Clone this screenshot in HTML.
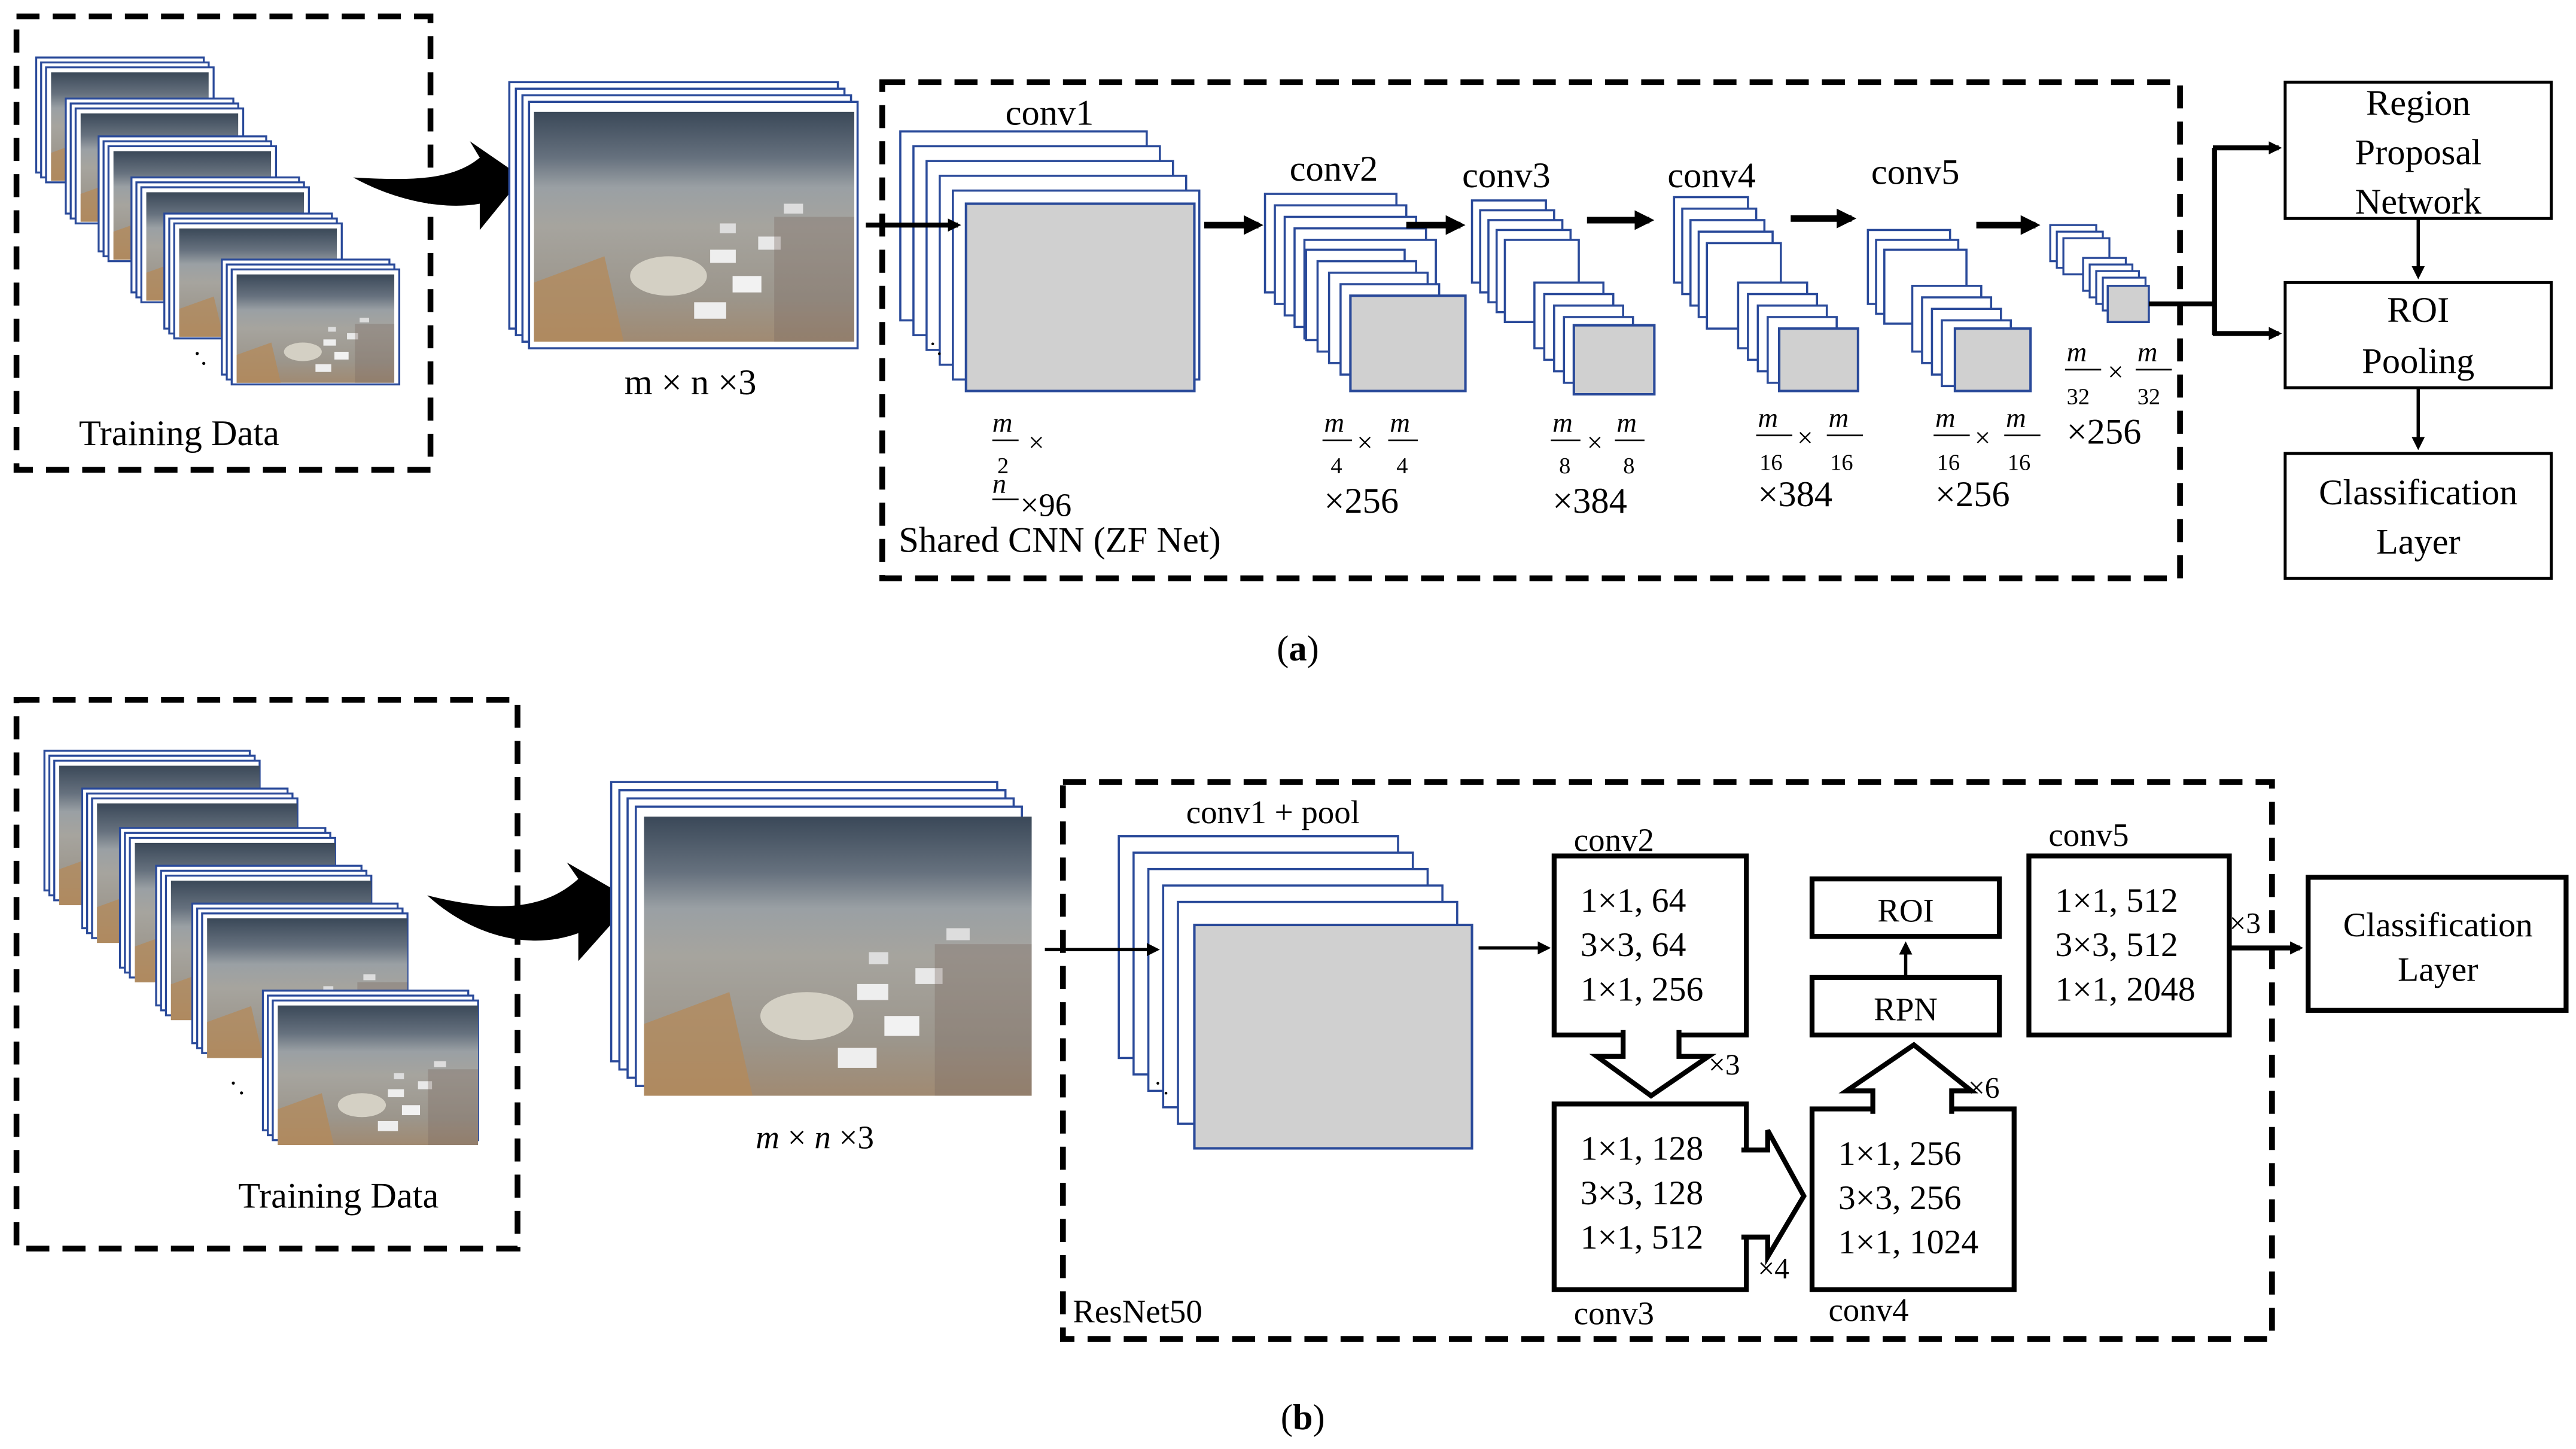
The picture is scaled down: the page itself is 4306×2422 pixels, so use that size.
<!DOCTYPE html>
<html><head><meta charset="utf-8">
<style>
html,body{margin:0;padding:0;background:#fff;}
svg{display:block;}
text{font-family:"Liberation Serif",serif;fill:#000;}
</style></head>
<body>
<svg id="s" width="4306" height="2422" viewBox="0 0 1568 882" xmlns="http://www.w3.org/2000/svg">
<defs>
<linearGradient id="sky" x1="0" y1="0" x2="0" y2="1">
<stop offset="0" stop-color="#3a4858"/><stop offset="0.2" stop-color="#66717e"/><stop offset="0.33" stop-color="#9aa0a4"/>
<stop offset="0.5" stop-color="#a6a49e"/><stop offset="0.8" stop-color="#9c968c"/><stop offset="1" stop-color="#a08a72"/>
</linearGradient>
<symbol id="ph" viewBox="0 0 100 70" preserveAspectRatio="none">
<rect width="100" height="70" fill="url(#sky)"/>
<polygon points="0,52 22,44 28,70 0,70" fill="#b48a5a" opacity="0.75"/>
<ellipse cx="42" cy="50" rx="12" ry="6" fill="#d4d0c4"/>
<rect x="55" y="42" width="8" height="4" fill="#eee"/><rect x="62" y="50" width="9" height="5" fill="#f2f2f2"/>
<rect x="70" y="38" width="7" height="4" fill="#e8e8e8"/><rect x="50" y="58" width="10" height="5" fill="#eee"/>
<rect x="78" y="28" width="6" height="3" fill="#ddd"/><rect x="58" y="34" width="5" height="3" fill="#ddd"/>
<rect x="75" y="32" width="25" height="38" fill="#7a6a60" opacity="0.35"/>
</symbol>
<marker id="ah" markerWidth="8" markerHeight="8" refX="6" refY="4" orient="auto" markerUnits="userSpaceOnUse"><path d="M0,0 L8,4 L0,8 z" fill="#000"/></marker>
<marker id="ah2" markerWidth="12" markerHeight="12" refX="9" refY="6" orient="auto" markerUnits="userSpaceOnUse"><path d="M0,0 L12,6 L0,12 z" fill="#000"/></marker>
</defs>
<g id="g"></g>
</svg>
<script>
var o='';
function R(x,y,w,h,f,s,sw,ex){o+='<rect x="'+x+'" y="'+y+'" width="'+w+'" height="'+h+'" fill="'+f+'" stroke="'+s+'" stroke-width="'+(sw||1)+'" '+(ex||'')+'/>';}
function T(x,y,t,sz,ex){o+='<text x="'+x+'" y="'+y+'" font-size="'+sz+'" '+(ex||'')+'>'+t+'</text>';}
function P(x,y,w,h){o+='<use href="#ph" x="'+x+'" y="'+y+'" width="'+w+'" height="'+h+'"/>';}
function L(x1,y1,x2,y2,sw,m){o+='<line x1="'+x1+'" y1="'+y1+'" x2="'+x2+'" y2="'+y2+'" stroke="#000" stroke-width="'+sw+'" '+(m?'marker-end="url(#'+m+')"':'')+'/>';}
var B='#2a4a9a';
// ===== (a)
R(10,10,252,276,'none','#000',3.5,'stroke-dasharray="14,8"');
var sx=[22,40,60,80,100,135],sy=[35,60,83,108,130,158];
for(var k=0;k<6;k++){var x=sx[k],y=sy[k];for(var i=0;i<3;i++)R(x+i*3,y+i*3,102,70,'#fff',B,1.2);P(x+9,y+9,96,66);}
T(118,216,'.',16);T(122,222,'.',16);
T(48,271,'Training Data',22);
o+='<path d="M215,108 C250,110 275,110 292,96 L286,86 L318,108 L292,140 L292,124 C270,128 240,122 215,108 z" fill="#000"/>';
for(var i=0;i<4;i++)R(310+i*4,50+i*4,200,150,'#fff',B,1.3);P(325,68,195,140);
T(380,240,'m × n ×3',22);
R(537,50,790,302,'none','#000',3.5,'stroke-dasharray="14,8"');
T(612,76,'conv1',22);
for(var i=0;i<5;i++)R(548+i*8,80+i*9,150,115,'#fff',B,1.3);R(588,124,139,114,'#d0d0d0',B,1.5);
T(566,210,'.',14);T(570,216,'.',14);
L(527,137,583,137,3,'ah');
T(604,263,'m',17,'font-style="italic"');L(604,268,620,268,1);T(607,288,'2',14);T(626,275,'×',17);
T(604,300,'n',17,'font-style="italic"');L(604,304,620,304,1);T(621,314,'×96',20);
T(547,336,'Shared CNN (ZF Net)',22);
T(785,110,'conv2',22);
for(var i=0;i<5;i++)R(770+i*6,118+i*7,80,60,'#fff',B,1.3);
for(var i=0;i<4;i++)R(795+i*7,152+i*7,60,55,'#fff',B,1.3);R(822,180,70,58,'#d0d0d0',B,1.5);
L(733,137,766,137,4,'ah2');
T(806,263,'m',17,'font-style="italic"');L(805,268,823,268,1);T(810,288,'4',14);T(826,275,'×',17);
T(846,263,'m',17,'font-style="italic"');L(845,268,863,268,1);T(850,288,'4',14);T(806,312,'×256',22);
T(890,114,'conv3',22);
for(var i=0;i<5;i++)R(896+i*5,122+i*6,45,50,'#fff',B,1.3);
for(var i=0;i<4;i++)R(934+i*6,172+i*7,42,40,'#fff',B,1.3);R(958,198,49,42,'#d0d0d0',B,1.5);
L(856,137,889,137,4,'ah2');
T(945,263,'m',17,'font-style="italic"');L(944,268,962,268,1);T(949,288,'8',14);T(966,275,'×',17);
T(984,263,'m',17,'font-style="italic"');L(983,268,1001,268,1);T(988,288,'8',14);T(945,312,'×384',22);
T(1015,114,'conv4',22);
for(var i=0;i<5;i++)R(1019+i*5,120+i*7,45,52,'#fff',B,1.3);
for(var i=0;i<4;i++)R(1058+i*6,172+i*7,42,40,'#fff',B,1.3);R(1083,200,48,38,'#d0d0d0',B,1.5);
L(966,134,1004,134,4,'ah2');
T(1070,260,'m',17,'font-style="italic"');L(1069,265,1091,265,1);T(1071,286,'16',14);T(1094,272,'×',17);
T(1113,260,'m',17,'font-style="italic"');L(1112,265,1134,265,1);T(1114,286,'16',14);T(1070,308,'×384',22);
T(1139,112,'conv5',22);
for(var i=0;i<3;i++)R(1137+i*5,140+i*6,50,45,'#fff',B,1.3);
for(var i=0;i<4;i++)R(1164+i*6,174+i*7,42,40,'#fff',B,1.3);R(1190,200,46,38,'#d0d0d0',B,1.5);
L(1090,133,1127,133,4,'ah2');
T(1178,260,'m',17,'font-style="italic"');L(1177,265,1199,265,1);T(1179,286,'16',14);T(1202,272,'×',17);
T(1221,260,'m',17,'font-style="italic"');L(1220,265,1242,265,1);T(1222,286,'16',14);T(1178,308,'×256',22);
for(var i=0;i<3;i++)R(1248+i*4,137+i*4,28,22,'#fff',B,1.2);
for(var i=0;i<4;i++)R(1268+i*4,157+i*4,26,20,'#fff',B,1.2);R(1283,174,25,22,'#d0d0d0',B,1.3);
L(1203,137,1239,137,4,'ah2');
T(1258,220,'m',17,'font-style="italic"');L(1257,225,1279,225,1);T(1258,246,'32',14);T(1283,232,'×',17);
T(1301,220,'m',17,'font-style="italic"');L(1300,225,1322,225,1);T(1301,246,'32',14);T(1258,270,'×256',22);
L(1308,185,1349,185,3);L(1348,90,1348,204,3);L(1347,90,1387,90,3,'ah');L(1347,203,1387,203,3,'ah');
R(1391,50,162,83,'#fff','#000',1.8);T(1472,70,'Region',22,'text-anchor="middle"');T(1472,100,'Proposal',22,'text-anchor="middle"');T(1472,130,'Network',22,'text-anchor="middle"');
R(1391,172,162,64,'#fff','#000',1.8);T(1472,196,'ROI',22,'text-anchor="middle"');T(1472,227,'Pooling',22,'text-anchor="middle"');
R(1391,276,162,76,'#fff','#000',1.8);T(1472,307,'Classification',22,'text-anchor="middle"');T(1472,337,'Layer',22,'text-anchor="middle"');
L(1472,133,1472,168,2,'ah');L(1472,236,1472,272,2,'ah');
T(790,402,'(<tspan font-weight="bold">a</tspan>)',22,'text-anchor="middle"');
// ===== (b)
R(10,426,305,334,'none','#000',3.5,'stroke-dasharray="14,8"');
var bx=[27,50,73,95,117,160],by=[457,480,504,527,550,603];
for(var k=0;k<6;k++){var x=bx[k],y=by[k];for(var i=0;i<3;i++)R(x+i*3,y+i*3,125,85,'#fff',B,1.2);P(x+9,y+9,122,85);}
T(140,660,'.',16);T(145,666,'.',16);
T(145,735,'Training Data',22);
o+='<path d="M260,545 C300,555 330,555 352,535 L345,525 L385,548 L352,585 L352,568 C325,578 290,572 260,545 z" fill="#000"/>';
for(var i=0;i<4;i++)R(372+i*5,476+i*5,235,170,'#fff',B,1.3);P(392,497,236,170);
T(460,699,'<tspan font-style="italic">m</tspan> × <tspan font-style="italic">n</tspan> ×3',20);
R(647,476,736,339,'none','#000',3.5,'stroke-dasharray="14,8"');
T(722,501,'conv1 + pool',20);
for(var i=0;i<5;i++)R(681+i*9,509+i*10,170,135,'#fff',B,1.3);R(727,563,169,136,'#d0d0d0',B,1.5);
T(703,660,'.',14);T(708,666,'.',14);
L(636,578,704,578,2,'ah');L(900,577,942,577,2,'ah');
function box(x,y,w,h,lines){R(x,y,w,h,'#fff','#000',3);for(var i=0;i<lines.length;i++)T(x+16,y+34+i*27,lines[i],21);}
T(958,518,'conv2',20);box(946,521,117,109,['1×1, 64','3×3, 64','1×1, 256']);
box(946,672,117,113,['1×1, 128','3×3, 128','1×1, 512']);T(958,806,'conv3',20);
box(1103,675,123,110,['1×1, 256','3×3, 256','1×1, 1024']);T(1113,804,'conv4',20);
T(1247,515,'conv5',20);box(1235,521,122,109,['1×1, 512','3×3, 512','1×1, 2048']);
R(1103,535,114,35,'#fff','#000',3);T(1160,561,'ROI',20,'text-anchor="middle"');
R(1103,595,114,35,'#fff','#000',3);T(1160,621,'RPN',20,'text-anchor="middle"');
L(1160,594,1160,575,2,'ah');
o+='<path d="M988,627 L988,643 L972,643 L1005,667 L1040,643 L1022,643 L1022,627" fill="#fff" stroke="#000" stroke-width="3"/>';
T(1040,654,'×3',18);
o+='<path d="M1060,700 L1076,700 L1076,688 L1098,728 L1076,765 L1076,753 L1060,753" fill="#fff" stroke="#000" stroke-width="3"/>';
T(1070,778,'×4',18);
o+='<path d="M1140,678 L1140,664 L1124,664 L1165,636 L1200,664 L1188,664 L1188,678" fill="#fff" stroke="#000" stroke-width="3"/>';
T(1198,668,'×6',18);
L(1357,577,1400,577,3,'ah');T(1357,568,'×3',18);
R(1405,534,157,81,'#fff','#000',3);T(1484,570,'Classification',21,'text-anchor="middle"');T(1484,597,'Layer',21,'text-anchor="middle"');
T(653,805,'ResNet50',20);
T(793,870,'(<tspan font-weight="bold">b</tspan>)',22,'text-anchor="middle"');
document.getElementById('g').innerHTML=o;
</script>
</body></html>
